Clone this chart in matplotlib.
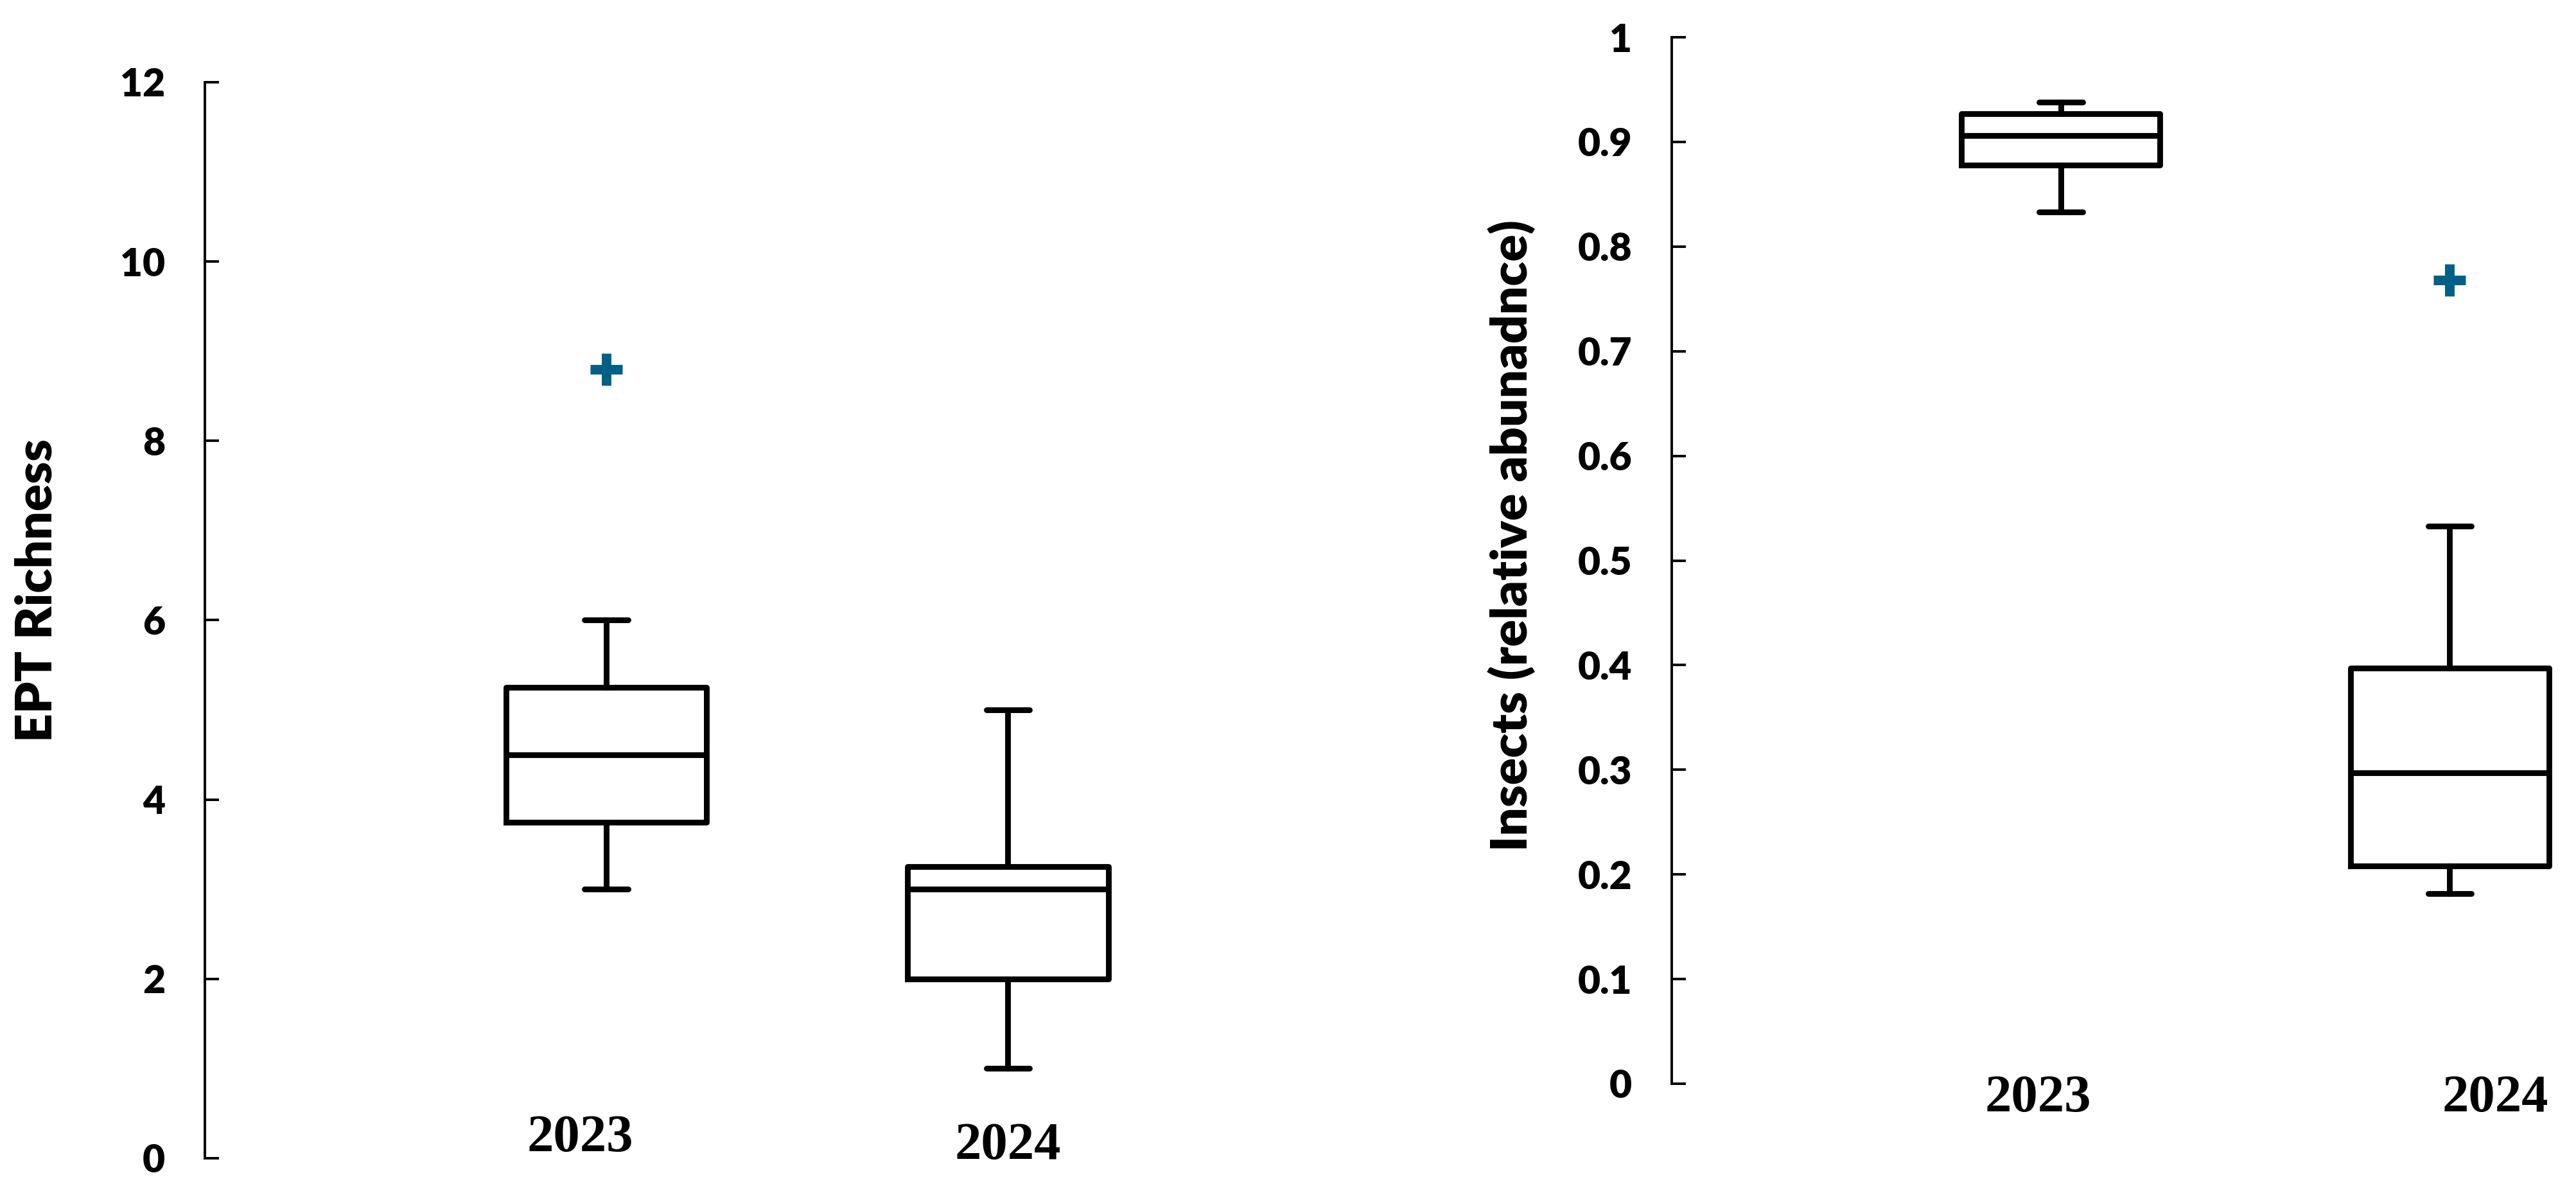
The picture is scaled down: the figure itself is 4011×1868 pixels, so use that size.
import matplotlib
matplotlib.use("Agg")
import matplotlib.pyplot as plt

# values
years = ["2023", "2024"]

ept_q1 = [3.75, 2.0]
ept_median = [4.5, 3.0]
ept_q3 = [5.25, 3.25]
ept_low = [3.0, 1.0]
ept_high = [6.0, 5.0]
ept_outliers = [[8.8], []]

ins_q1 = [0.878, 0.208]
ins_median = [0.906, 0.297]
ins_q3 = [0.927, 0.397]
ins_low = [0.833, 0.182]
ins_high = [0.938, 0.533]
ins_outliers = [[], [0.768]]

ept_ticks = [0, 2, 4, 6, 8, 10, 12]
ins_ticks = [0, 0.1, 0.2, 0.3, 0.4, 0.5, 0.6, 0.7, 0.8, 0.9, 1]
ins_ticklabels = ["0", "0.1", "0.2", "0.3", "0.4", "0.5", "0.6", "0.7", "0.8", "0.9", "1"]

OUTLIER_COLOR = "#006085"
SANS = "Lato"
SERIF = "Liberation Serif"
WEIGHT = "heavy"


def make_stats(q1, med, q3, lo, hi, fliers):
    return [dict(q1=a, med=b, q3=c, whislo=d, whishi=e, fliers=f)
            for a, b, c, d, e, f in zip(q1, med, q3, lo, hi, fliers)]


def draw_panel(ax, stats, width, capwidth):
    line = dict(color="black", linewidth=2.5)
    ax.bxp(stats, positions=[1, 2], widths=width, capwidths=capwidth,
           showfliers=True, manage_ticks=False,
           boxprops=line, whiskerprops=line,
           capprops=dict(color="black", linewidth=2.5, solid_capstyle="round"),
           medianprops=line,
           flierprops=dict(marker="+", markersize=14, markeredgewidth=4.2,
                           markeredgecolor=OUTLIER_COLOR, linestyle="none"))
    for side in ["top", "right", "bottom"]:
        ax.spines[side].set_visible(False)
    ax.spines["left"].set_linewidth(1.1)
    ax.set_xticks([])
    ax.tick_params(axis="y", direction="in", length=6.2, width=1.1, pad=17.4,
                   labelsize=17)


fig = plt.figure(figsize=(4011 / 256, 1868 / 256), dpi=256)

ax1 = fig.add_axes([0.0795, 0.0348, 0.3897, 0.8967])
draw_panel(ax1, make_stats(ept_q1, ept_median, ept_q3, ept_low, ept_high, ept_outliers),
           0.5, 0.108)
ax1.set_xlim(0, 2.5)
ax1.set_ylim(0, 12)
ax1.set_yticks(ept_ticks)
ax1.set_yticklabels([str(t) for t in ept_ticks], fontfamily=SANS, fontweight=WEIGHT)
ax1.set_ylabel("EPT Richness", fontfamily=SANS, fontweight=WEIGHT, fontsize=22,
               va="center")
ax1.yaxis.set_label_coords(-0.167, 0.528)
for x, y, name in zip([0.935, 2.0], [0.018, 0.011], years):
    ax1.text(x, y, name, transform=ax1.get_xaxis_transform(), ha="center", va="center",
             fontfamily=SERIF, fontweight="bold", fontsize=23.3)

ax2 = fig.add_axes([0.649, 0.0969, 0.3473, 0.8720])
draw_panel(ax2, make_stats(ins_q1, ins_median, ins_q3, ins_low, ins_high, ins_outliers),
           0.51, 0.112)
ax2.set_xlim(0, 2.3)
ax2.set_ylim(0, 1)
ax2.set_yticks(ins_ticks)
ax2.set_yticklabels(ins_ticklabels, fontfamily=SANS, fontweight=WEIGHT)
ax2.set_ylabel("Insects (relative abunadnce)", fontfamily=SANS, fontweight=WEIGHT,
               fontsize=22, va="center")
ax2.yaxis.set_label_coords(-0.179, 0.524)
for x, name in zip([0.942, 2.117], years):
    ax2.text(x, -0.0147, name, transform=ax2.get_xaxis_transform(), ha="center",
             va="center", fontfamily=SERIF, fontweight="bold", fontsize=23.3,
             clip_on=False)

fig.savefig("out.png", dpi=256, facecolor="white")
